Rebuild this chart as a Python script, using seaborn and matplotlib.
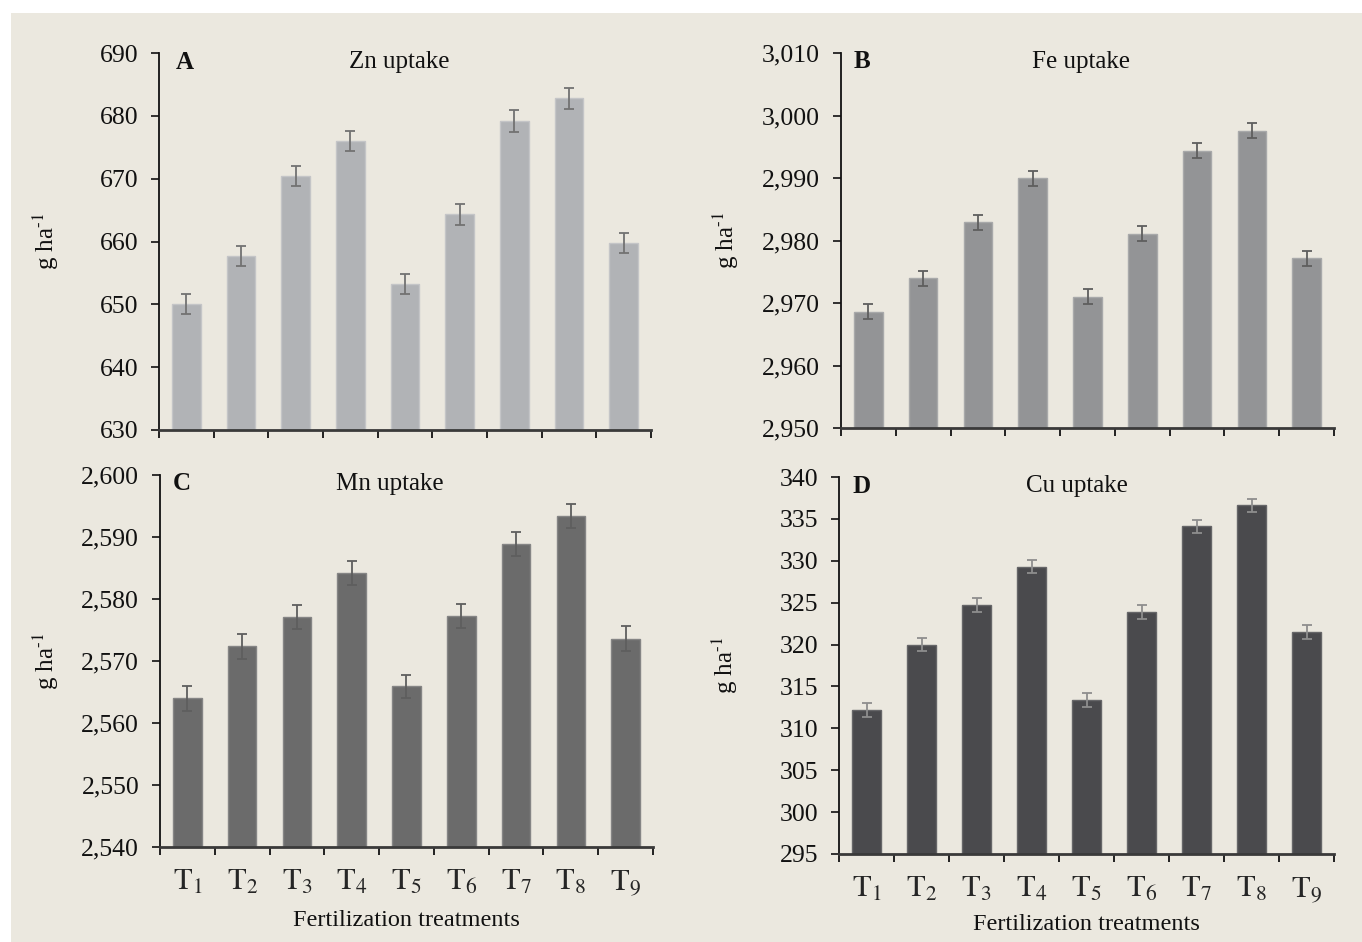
import numpy as np
import pandas as pd
import matplotlib
matplotlib.use("Agg")
import matplotlib.pyplot as plt
import seaborn as sns
from matplotlib.ticker import FuncFormatter, FixedLocator, NullFormatter
from matplotlib.patches import Rectangle

# ---------------- data ----------------
treatments = ["T1", "T2", "T3", "T4", "T5", "T6", "T7", "T8", "T9"]
tick_labels = [r"$\mathrm{T}_{%d}$" % i for i in range(1, 10)]

zn_uptake = [650.0, 657.7, 670.4, 676.0, 653.2, 664.3, 679.2, 682.8, 659.7]
zn_err = [1.6, 1.6, 1.6, 1.6, 1.6, 1.6, 1.7, 1.7, 1.6]

fe_uptake = [2968.6, 2974.0, 2982.9, 2990.0, 2971.0, 2981.1, 2994.4, 2997.6, 2977.2]
fe_err = [1.2, 1.2, 1.2, 1.2, 1.2, 1.2, 1.2, 1.2, 1.2]

mn_uptake = [2564.0, 2572.4, 2577.1, 2584.2, 2565.9, 2577.3, 2588.9, 2593.4, 2573.6]
mn_err = [2.0, 2.0, 2.0, 2.0, 1.9, 1.9, 1.9, 1.9, 2.0]

cu_uptake = [312.2, 320.0, 324.7, 329.3, 313.4, 323.9, 334.1, 336.6, 321.5]
cu_err = [0.8, 0.8, 0.8, 0.8, 0.8, 0.8, 0.8, 0.8, 0.8]

panels = [
    dict(letter="A", title="Zn uptake", vals=zn_uptake, err=zn_err,
         ylim=(630, 690), step=10, color="#B1B3B6", edge="#C4C5C7", ecolor="#727272",
         pos=(159, 651, 53, 430), letter_x=0.035, title_x=0.488, bottom=False,
         ylab_x=-0.20, xlab_y=0),
    dict(letter="B", title="Fe uptake", vals=fe_uptake, err=fe_err,
         ylim=(2950, 3010), step=10, color="#939496", edge="#A8A9AA", ecolor="#5E5E5E",
         pos=(841, 1334, 53, 428), letter_x=0.025, title_x=0.487, bottom=False,
         ylab_x=-0.203, xlab_y=0),
    dict(letter="C", title="Mn uptake", vals=mn_uptake, err=mn_err,
         ylim=(2540, 2600), step=10, color="#6B6B6B", edge="#858585", ecolor="#5E5E5E",
         pos=(160, 653, 475, 847), letter_x=0.025, title_x=0.467, bottom=True,
         ylab_x=-0.201, xlab_y=-0.17),
    dict(letter="D", title="Cu uptake", vals=cu_uptake, err=cu_err,
         ylim=(295, 340), step=5, color="#4A4A4D", edge="#666668", ecolor="#8E8E8E",
         pos=(839, 1334, 477, 854), letter_x=0.028, title_x=0.48, bottom=True,
         ylab_x=-0.200, xlab_y=-0.16),
]

# ---------------- style ----------------
sns.set_style("ticks")
plt.rcParams["font.family"] = ["Liberation Serif", "DejaVu Serif"]
plt.rcParams["mathtext.fontset"] = "stix"

BG = "#EBE8DF"
W, H = 1362, 942
fig = plt.figure(figsize=(W / 100, H / 100), dpi=100, facecolor="white")
fig.patches.append(Rectangle((11 / W, 0), 1 - 11 / W, 1 - 13 / H,
                             transform=fig.transFigure, facecolor=BG,
                             edgecolor="none", zorder=-10))

for p in panels:
    l, r, t, b = p["pos"]
    ax = fig.add_axes([l / W, 1 - b / H, (r - l) / W, (b - t) / H])
    ax.set_facecolor(BG)
    df = pd.DataFrame({"Treatment": treatments, "Uptake": p["vals"]})
    sns.barplot(data=df, x="Treatment", y="Uptake", color=p["color"], saturation=1,
                width=0.52, edgecolor=p["edge"], linewidth=1.0, ax=ax, errorbar=None)
    ax.errorbar(np.arange(len(treatments)), p["vals"], yerr=p["err"], fmt="none",
                ecolor=p["ecolor"], elinewidth=1.3, capsize=3.5, capthick=1.3, zorder=5)

    lo, hi = p["ylim"]
    ax.set_ylim(lo, hi)
    ax.set_yticks(np.arange(lo, hi + 0.1, p["step"]))
    ax.yaxis.set_major_formatter(FuncFormatter(lambda v, _: f"{v:,.0f}"))
    ax.set_xlim(-0.5, len(treatments) - 0.5)

    ax.xaxis.set_major_locator(FixedLocator(np.arange(-0.5, len(treatments), 1.0)))
    ax.xaxis.set_major_formatter(NullFormatter())
    ax.xaxis.set_minor_locator(FixedLocator(np.arange(len(treatments))))
    if p["bottom"]:
        ax.set_xticklabels(tick_labels, minor=True, fontsize=22)
    ax.tick_params(axis="x", which="minor", length=0, pad=15)
    ax.tick_params(axis="x", which="major", length=6, width=1.3, direction="out",
                   color="#111111")
    ax.tick_params(axis="y", which="major", length=6, width=1.2, direction="out",
                   labelsize=18.5, pad=9, color="#111111", labelcolor="#111111")

    for s in ("top", "right"):
        ax.spines[s].set_visible(False)
    ax.spines["left"].set_color("#111111")
    ax.spines["left"].set_linewidth(1.3)
    ax.spines["bottom"].set_color("#3A3A3A")
    ax.spines["bottom"].set_linewidth(2.0)

    ax.set_ylabel(r"g ha$^{\text{-}1}$", fontsize=18, color="#111111")
    ax.yaxis.set_label_coords(p["ylab_x"], 0.5)
    if p["bottom"]:
        ax.set_xlabel("Fertilization treatments", fontsize=17.5, color="#111111")
        ax.xaxis.set_label_coords(0.5, p["xlab_y"])
    else:
        ax.set_xlabel("")

    ax.text(p["letter_x"], 0.976, p["letter"], transform=ax.transAxes, ha="left",
            va="center", fontsize=18, fontweight="bold", color="#111111")
    ax.text(p["title_x"], 0.976, p["title"], transform=ax.transAxes, ha="center",
            va="center", fontsize=18, color="#111111")

fig.savefig("out.png", dpi=100, facecolor="white")
